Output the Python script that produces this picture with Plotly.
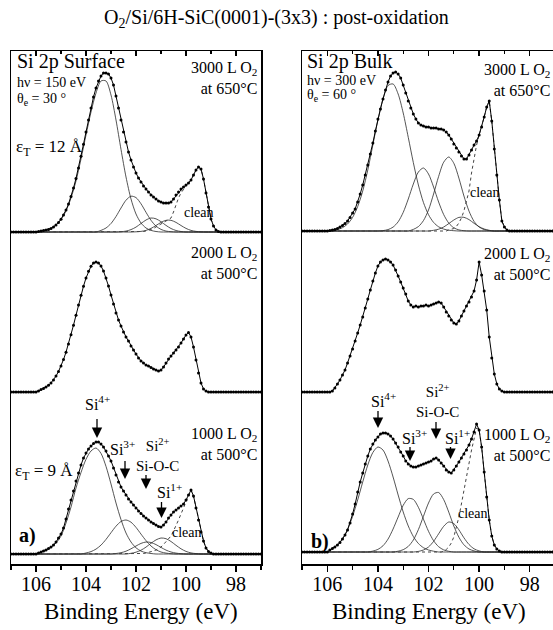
import numpy as np
import plotly.graph_objects as go

W, H = 553, 630
FONT = "Liberation Serif, Times New Roman, serif"

# ---------------- energy grids (eV) ----------------
E = np.round(np.linspace(107.0, 97.0, 101), 1)    # measured spectra, 0.1 eV
EC = np.round(np.linspace(107.0, 97.0, 51), 1)    # fit components, 0.2 eV

# ---------------- measured spectra (intensity above own baseline) ----------------
# Si 2p Surface (hv = 150 eV)
SURF_3000 = [0]*11 + [
    0.5, 1, 1.5, 2, 2.5, 3.6, 5, 7, 9.5, 12.8,
    17, 22, 28, 35.6, 44, 53.6, 64, 75.7, 87.8, 100,
    112, 124, 135, 144, 151, 156, 159, 159, 158, 154,
    147, 136, 124, 112, 100, 90, 80, 72, 65, 59,
    54, 50, 46, 43, 40, 37, 35, 33, 31, 30,
    29, 29, 29, 30, 33, 37, 40, 43, 45, 47,
    49, 52, 57, 62, 65, 63, 53, 39, 25, 13,
    6, 2, 0.5] + [0]*17
SURF_2000 = [0]*11 + [
    1, 2.4, 3.5, 4.9, 6.7, 9.1, 12.1, 15.9, 20.5, 26,
    32.4, 39.8, 48.1, 57.2, 66.8, 76.8, 86.9, 96.7, 105.8, 114,
    120.7, 125.8, 129, 130, 129, 126, 121, 114, 106, 97,
    88, 79, 72, 66, 60, 55, 51, 46, 42, 38,
    34, 31, 29, 27, 26, 24.5, 23, 22, 21, 22,
    25, 29, 33, 36, 39, 42, 45, 49, 53, 57,
    59.5, 55, 45, 32, 19, 9, 3, 1] + [0]*22
SURF_1000 = [0]*11 + [
    1, 2, 3, 4, 5.5, 7, 9, 12, 16, 20,
    26, 35, 45, 54, 63, 73, 81, 89, 96, 101,
    105, 108, 110.5, 112, 112, 110, 107, 103, 98, 93,
    86, 79, 72, 67, 63, 59, 55, 52, 49, 46,
    43, 40.5, 38, 36, 34, 32, 30.5, 29, 27.5, 27,
    29, 32, 36, 39, 42, 44, 46, 48, 50, 54,
    59, 64, 58, 46, 34, 22, 13, 6, 2.5, 1] + [0]*20

# Si 2p Bulk (hv = 300 eV)
BULK_3000 = [0]*11 + [
    0.5, 1, 1.5, 2.5, 4, 5.5, 7.5, 10, 13.5, 18,
    22, 29, 37, 46, 56, 66, 77, 88, 100, 112,
    122, 132, 141, 149, 155, 158, 159, 157, 153, 146,
    138, 130, 123, 117, 112, 108, 106, 105, 104, 104,
    103, 103, 103, 102, 102, 101, 99, 96, 92, 87,
    83, 79, 75, 72, 72, 76, 81, 86, 90, 96,
    104, 114, 124, 130, 110, 82, 56, 31, 10, 4,
    1] + [0]*19
BULK_2000 = [0]*11 + [
    0, 1, 4, 8, 12, 17, 22, 29, 36, 43,
    51, 59, 67, 75, 84, 93, 102, 111, 119, 126,
    130, 132, 133, 132, 130, 127, 122, 116, 110, 104,
    98, 91, 87, 85, 86, 85, 86, 86, 87, 86,
    87, 88, 89, 90, 89, 85, 80, 76, 72, 69,
    68, 71, 76, 81, 86, 90, 95, 101, 112, 130,
    117, 101, 82, 55, 34, 18, 8, 3, 1] + [0]*21
BULK_1000 = [0]*11 + [
    2, 3.5, 5, 7, 9.5, 13, 17, 22, 29, 38,
    48, 60, 70, 79, 88, 96, 103, 108, 112, 115,
    118, 119, 119, 118, 116, 113, 109, 105, 100, 96,
    91, 88, 86, 85, 85, 86, 87, 88, 89, 90,
    91, 93, 94, 92, 89, 86, 82, 80, 79, 82,
    86, 90, 94, 98, 102, 107, 113, 120, 128, 122,
    105, 80, 55, 32, 16, 7, 3, 1] + [0]*22

# ---------------- "clean" reference spectra (0.1 eV grid) ----------------
CLEAN_SURF_3000 = [0]*52 + [0, 0.5, 1, 1.5, 2.5, 3.5, 5, 6.5, 8, 9.5, 11, 12, 14, 20, 28, 34,
                            39, 43, 46, 49, 52, 57, 62, 65, 63, 53, 39, 25, 13, 6, 2, 0.5] + [0]*17
CLEAN_SURF_1000 = [0]*52 + [0, 0.5, 1, 1.5, 2, 3, 4, 5.5, 7, 9.5, 12, 15, 18, 23, 28, 34, 40,
                            46, 53, 59, 64, 58, 46, 34, 22, 13, 6, 2.5, 1, 0] + [0]*19
CLEAN_BULK_3000 = [0]*57 + [0, 1, 1.5, 2.5, 4.5, 8, 13, 20, 30, 40, 58, 74, 86, 96, 104, 114,
                            124, 130, 110, 82, 56, 31, 10, 4, 1, 0] + [0]*18
CLEAN_BULK_1000 = [0]*55 + [0, 1, 2.5, 5, 9, 15, 24, 35, 48, 62, 76, 90, 102, 113, 124, 122,
                            105, 80, 55, 32, 16, 7, 3, 1, 0] + [0]*21

# ---------------- fit components (0.2 eV grid) ----------------
SI4_SURF_3000 = [0]*6 + [1, 1.5, 3.5, 7, 12.5, 21, 34, 51, 73, 97, 120, 139, 151, 151, 137, 112,
                         82.6, 55, 33, 18, 9, 4, 1.6, 0.5] + [0]*21
SI3_SURF_3000 = [0]*18 + [1.6, 4, 8.5, 15.5, 24, 31.8, 35.8, 34.4, 28.2, 19.7, 11.7, 5.9, 2.6,
                          0.9, 0.3] + [0]*18
SI2_SURF_3000 = [0]*22 + [0.3, 0.9, 2.4, 4.9, 8.5, 12, 14, 13.2, 10.3, 6.6, 3.5, 1.5, 0.5] + [0]*16
SI1_SURF_3000 = [0]*25 + [0.2, 0.6, 1.6, 3.6, 6.5, 9.6, 11.7, 11.7, 9.6, 6.5, 3.6, 1.6, 0.6,
                          0.2] + [0]*12

SI4_SURF_1000 = [0]*6 + [1.8, 3.5, 6.5, 11, 18, 31, 47, 66, 81.5, 94.7, 103, 106, 100.6, 87.6, 70,
                         51, 34.4, 21, 12, 6.2, 2.9, 1.3, 0.5] + [0]*22
SI3_SURF_1000 = [0]*15 + [1, 2.4, 4.9, 8.9, 14.6, 21.3, 27.8, 32.5, 34, 31.8, 26.6, 19.9, 13.4, 8,
                          4.3, 2, 0.9, 0.3] + [0]*18
SI2_SURF_1000 = [0]*21 + [0.5, 1.3, 2.8, 5.2, 8, 10.6, 12, 11.5, 9.4, 6.6, 3.9, 2, 0.9, 0.3] + [0]*16
SI1_SURF_1000 = [0]*24 + [0.7, 1.8, 3.8, 6.9, 10.7, 14.1, 16, 15.3, 12.5, 8.7, 5.2, 2.6, 1.1,
                          0.4] + [0]*13

SI4_BULK_3000 = [0]*7 + [1.4, 3.3, 7, 13.6, 24.4, 40, 61, 86, 111, 132, 145.5, 147, 137, 118, 93.6,
                         68.4, 46, 28.5, 16.3, 8.6, 4.2, 1.9, 0.8, 0.3] + [0]*20
SI3_BULK_3000 = [0]*16 + [0.4, 1.4, 3.9, 9.2, 18.6, 32, 47, 59, 63, 57, 44, 29, 16.4, 7.9, 3.2,
                          1.1, 0.3] + [0]*18
SI2_BULK_3000 = [0]*22 + [1.6, 4.4, 10.4, 21, 37, 54.6, 68.8, 74, 67.8, 52.9, 35, 19.9, 9.6, 4,
                          1.4, 0.4] + [0]*13
SI1_BULK_3000 = [0]*26 + [0.7, 1.8, 4, 7.4, 11, 13.6, 13.7, 11.4, 7.7, 4.3, 2, 0.7] + [0]*13

SI4_BULK_1000 = [0]*6 + [3.4, 7, 13, 22.5, 35.6, 52, 70, 87, 99.5, 105, 102, 91, 75, 57, 40, 26,
                         15.5, 8.5, 4.3, 2, 0.8] + [0]*24
SI3_BULK_1000 = [0]*14 + [0.9, 2.6, 6.2, 12.9, 23, 35, 46.7, 53.4, 52.6, 44.7, 32.8, 20.7, 11.3,
                          5.3, 2.1, 0.7] + [0]*21
SI2_BULK_1000 = [0]*19 + [0.8, 2.3, 5.6, 12, 22.4, 35.7, 49, 58, 59.5, 52.4, 39.9, 26, 14.8, 7.2,
                          3, 1.1] + [0]*16
SI1_BULK_1000 = [0]*23 + [0.6, 2, 5, 10.6, 18.2, 25.7, 30, 28.4, 22.2, 14.2, 7.5, 3.2, 1.1] + [0]*15

for _name, _arr, _n in [
    ("SURF_3000", SURF_3000, 101), ("SURF_2000", SURF_2000, 101), ("SURF_1000", SURF_1000, 101),
    ("BULK_3000", BULK_3000, 101), ("BULK_2000", BULK_2000, 101), ("BULK_1000", BULK_1000, 101),
    ("CLEAN_SURF_3000", CLEAN_SURF_3000, 101), ("CLEAN_SURF_1000", CLEAN_SURF_1000, 101),
    ("CLEAN_BULK_3000", CLEAN_BULK_3000, 101), ("CLEAN_BULK_1000", CLEAN_BULK_1000, 101),
    ("SI4_SURF_3000", SI4_SURF_3000, 51), ("SI3_SURF_3000", SI3_SURF_3000, 51),
    ("SI2_SURF_3000", SI2_SURF_3000, 51), ("SI1_SURF_3000", SI1_SURF_3000, 51),
    ("SI4_SURF_1000", SI4_SURF_1000, 51), ("SI3_SURF_1000", SI3_SURF_1000, 51),
    ("SI2_SURF_1000", SI2_SURF_1000, 51), ("SI1_SURF_1000", SI1_SURF_1000, 51),
    ("SI4_BULK_3000", SI4_BULK_3000, 51), ("SI3_BULK_3000", SI3_BULK_3000, 51),
    ("SI2_BULK_3000", SI2_BULK_3000, 51), ("SI1_BULK_3000", SI1_BULK_3000, 51),
    ("SI4_BULK_1000", SI4_BULK_1000, 51), ("SI3_BULK_1000", SI3_BULK_1000, 51),
    ("SI2_BULK_1000", SI2_BULK_1000, 51), ("SI1_BULK_1000", SI1_BULK_1000, 51),
]:
    assert len(_arr) == _n, (_name, len(_arr))

# vertical offsets of the stacked spectra (plot units)
SURF_BASE = {"3000": 332, "2000": 172, "1000": 10}
BULK_BASE = {"3000": 333, "2000": 172, "1000": 12}

fig = go.Figure()


def comp(vals, base, xa, ya):
    fig.add_trace(go.Scatter(x=EC, y=np.array(vals, float) + base, xaxis=xa, yaxis=ya, mode="lines",
                             line=dict(width=0.8, color="#2a2a2a", shape="spline", smoothing=0.8),
                             hoverinfo="skip"))


def clean(vals, base, xa, ya):
    fig.add_trace(go.Scatter(x=E, y=np.array(vals, float) + base, xaxis=xa, yaxis=ya, mode="lines",
                             line=dict(width=1, color="#444", dash="dot"), hoverinfo="skip"))


def data(vals, base, xa, ya):
    fig.add_trace(go.Scatter(x=E, y=np.array(vals, float) + base, xaxis=xa, yaxis=ya,
                             mode="lines+markers", line=dict(width=1, color="black"),
                             marker=dict(size=3, color="black"), hoverinfo="skip"))


# left column: surface  (x: labels, x3: top ticks, x5: bottom ticks)
for v in (SI4_SURF_3000, SI3_SURF_3000, SI2_SURF_3000, SI1_SURF_3000):
    comp(v, SURF_BASE["3000"], "x", "y")
for v in (SI4_SURF_1000, SI3_SURF_1000, SI2_SURF_1000, SI1_SURF_1000):
    comp(v, SURF_BASE["1000"], "x", "y")
clean(CLEAN_SURF_3000, SURF_BASE["3000"], "x3", "y")
clean(CLEAN_SURF_1000, SURF_BASE["1000"], "x3", "y")
data(SURF_3000, SURF_BASE["3000"], "x5", "y")
data(SURF_2000, SURF_BASE["2000"], "x5", "y")
data(SURF_1000, SURF_BASE["1000"], "x5", "y")

# right column: bulk  (x2: labels, x4: top ticks, x6: bottom ticks)
for v in (SI4_BULK_3000, SI3_BULK_3000, SI2_BULK_3000, SI1_BULK_3000):
    comp(v, BULK_BASE["3000"], "x2", "y2")
for v in (SI4_BULK_1000, SI3_BULK_1000, SI2_BULK_1000, SI1_BULK_1000):
    comp(v, BULK_BASE["1000"], "x2", "y2")
clean(CLEAN_BULK_3000, BULK_BASE["3000"], "x4", "y2")
clean(CLEAN_BULK_1000, BULK_BASE["1000"], "x4", "y2")
data(BULK_3000, BULK_BASE["3000"], "x6", "y2")
data(BULK_2000, BULK_BASE["2000"], "x6", "y2")
data(BULK_1000, BULK_BASE["1000"], "x6", "y2")

# ---------------- axes ----------------
Y_DOM = [1 - 564 / H, 1 - 51 / H]
LEFT_DOM = [11 / W, 261 / W]
RIGHT_DOM = [302 / W, 1.0]
LEFT_RNG = [107, 97]
RIGHT_RNG = [107, 97.08]


def label_axis(dom, rng, anchor):
    return dict(domain=dom, range=rng, anchor=anchor, tickmode="linear", tick0=98, dtick=2,
                ticks="", ticklabelstandoff=1,
                showline=True, linewidth=1.5, linecolor="black", showgrid=False, zeroline=False,
                tickfont=dict(family=FONT, size=20, color="black"), fixedrange=True)


def tick_axis(over, rng, anchor, side):
    inside = side == "top"
    return dict(overlaying=over, side=side, anchor=anchor, range=rng, tickmode="linear",
                tick0=98, dtick=2, ticks="inside" if inside else "outside",
                ticklen=5 if inside else 6, tickwidth=1.3, tickcolor="black",
                minor=dict(dtick=1, ticks="inside" if inside else "outside",
                           ticklen=3 if inside else 4, tickwidth=1.1, tickcolor="black"),
                showline=True, linewidth=1.5, linecolor="black", showticklabels=False,
                showgrid=False, zeroline=False, fixedrange=True)


def y_axis(anchor, mirror):
    return dict(domain=Y_DOM, range=[0, 513], anchor=anchor, showline=True, linewidth=1.5,
                linecolor="black", mirror=mirror, ticks="", showticklabels=False,
                showgrid=False, zeroline=False, fixedrange=True)


fig.update_layout(
    width=W, height=H, margin=dict(l=0, r=0, t=0, b=0),
    paper_bgcolor="white", plot_bgcolor="white", showlegend=False, hovermode=False,
    xaxis=label_axis(LEFT_DOM, LEFT_RNG, "y"),
    xaxis2=label_axis(RIGHT_DOM, RIGHT_RNG, "y2"),
    xaxis3=tick_axis("x", LEFT_RNG, "y", "top"),
    xaxis4=tick_axis("x2", RIGHT_RNG, "y2", "top"),
    xaxis5=tick_axis("x", LEFT_RNG, "y", "bottom"),
    xaxis6=tick_axis("x2", RIGHT_RNG, "y2", "bottom"),
    yaxis=y_axis("x", True),
    yaxis2=y_axis("x2", False),
)

# ---------------- text ----------------
ann = []


def txt(s, x, y, size, xanchor="center", yanchor="middle", align="center"):
    ann.append(dict(text=s, x=x / W, y=1 - y / H, xref="paper", yref="paper", xanchor=xanchor,
                    yanchor=yanchor, align=align, showarrow=False,
                    font=dict(family=FONT, size=size, color="black")))


def arrow(x, y0, y1):
    ann.append(dict(text=" ", x=x / W, y=1 - y1 / H, xref="paper", yref="paper", ax=0,
                    ay=-(y1 - y0), showarrow=True, arrowhead=2, arrowsize=1.6, arrowwidth=1.3,
                    arrowcolor="black", standoff=0, font=dict(family=FONT, size=4)))


def dose(s1, s2, x, y):
    # two-line exposure label, right aligned at x, centred vertically at y
    txt(s1 + "<br>" + s2, x, y, 16, "right", "middle", "right")


txt("O<sub>2</sub>/Si/6H-SiC(0001)-(3x3) : post-oxidation", 276, 18, 20)
txt("Binding Energy (eV)", 141, 611, 23)
txt("Binding Energy (eV)", 429, 611, 23)

# left panel
txt("Si 2p Surface", 15, 62, 20, "left")
txt("hν = 150 eV", 15, 83, 14, "left")
txt("θ<sub>e</sub> = 30 °", 15, 99, 14, "left")
dose("3000 L O<sub>2</sub>", "at 650°C", 259, 78)
txt("ε<sub>T</sub> = 12 Å", 14, 148, 17, "left")
txt("clean", 199, 212, 14)
dose("2000 L O<sub>2</sub>", "at 500°C", 259, 263)
txt("Si<sup>4+</sup>", 97.5, 403, 16)
arrow(97, 415, 438)
txt("Si<sup>3+</sup>", 122, 448, 16)
arrow(125, 457, 479)
txt("Si<sup>2+</sup><br>Si-O-C", 157, 455, 15)
arrow(146, 471, 489)
txt("Si<sup>1+</sup>", 169, 491, 16)
arrow(161.5, 498, 518)
dose("1000 L O<sub>2</sub>", "at 500°C", 259, 444)
txt("ε<sub>T</sub> = 9 Å", 13, 472, 17, "left")
txt("<b>a)</b>", 27, 535, 20)
txt("clean", 187, 532, 14)

# right panel
txt("Si 2p Bulk", 305, 62, 20, "left")
txt("hν = 300 eV", 305, 81, 14, "left")
txt("θ<sub>e</sub> = 60 °", 305, 95, 14, "left")
dose("3000 L O<sub>2</sub>", "at 650°C", 552, 80)
txt("clean", 485, 192, 14)
dose("2000 L O<sub>2</sub>", "at 500°C", 552, 264)
txt("Si<sup>4+</sup>", 383, 400, 16)
arrow(378, 407, 428)
txt("Si<sup>2+</sup><br>Si-O-C", 437.5, 401, 15)
arrow(436, 418, 439)
txt("Si<sup>3+</sup>", 414, 437, 16)
arrow(410, 443, 461)
txt("Si<sup>1+</sup>", 457.5, 437, 16)
arrow(450.5, 443, 459)
dose("1000 L O<sub>2</sub>", "at 500°C", 552, 445)
txt("<b>b)</b>", 320, 541, 20)
txt("clean", 473, 513, 14)

fig.update_layout(annotations=ann)

fig.write_html("out.html", config={"displayModeBar": False, "staticPlot": True})
